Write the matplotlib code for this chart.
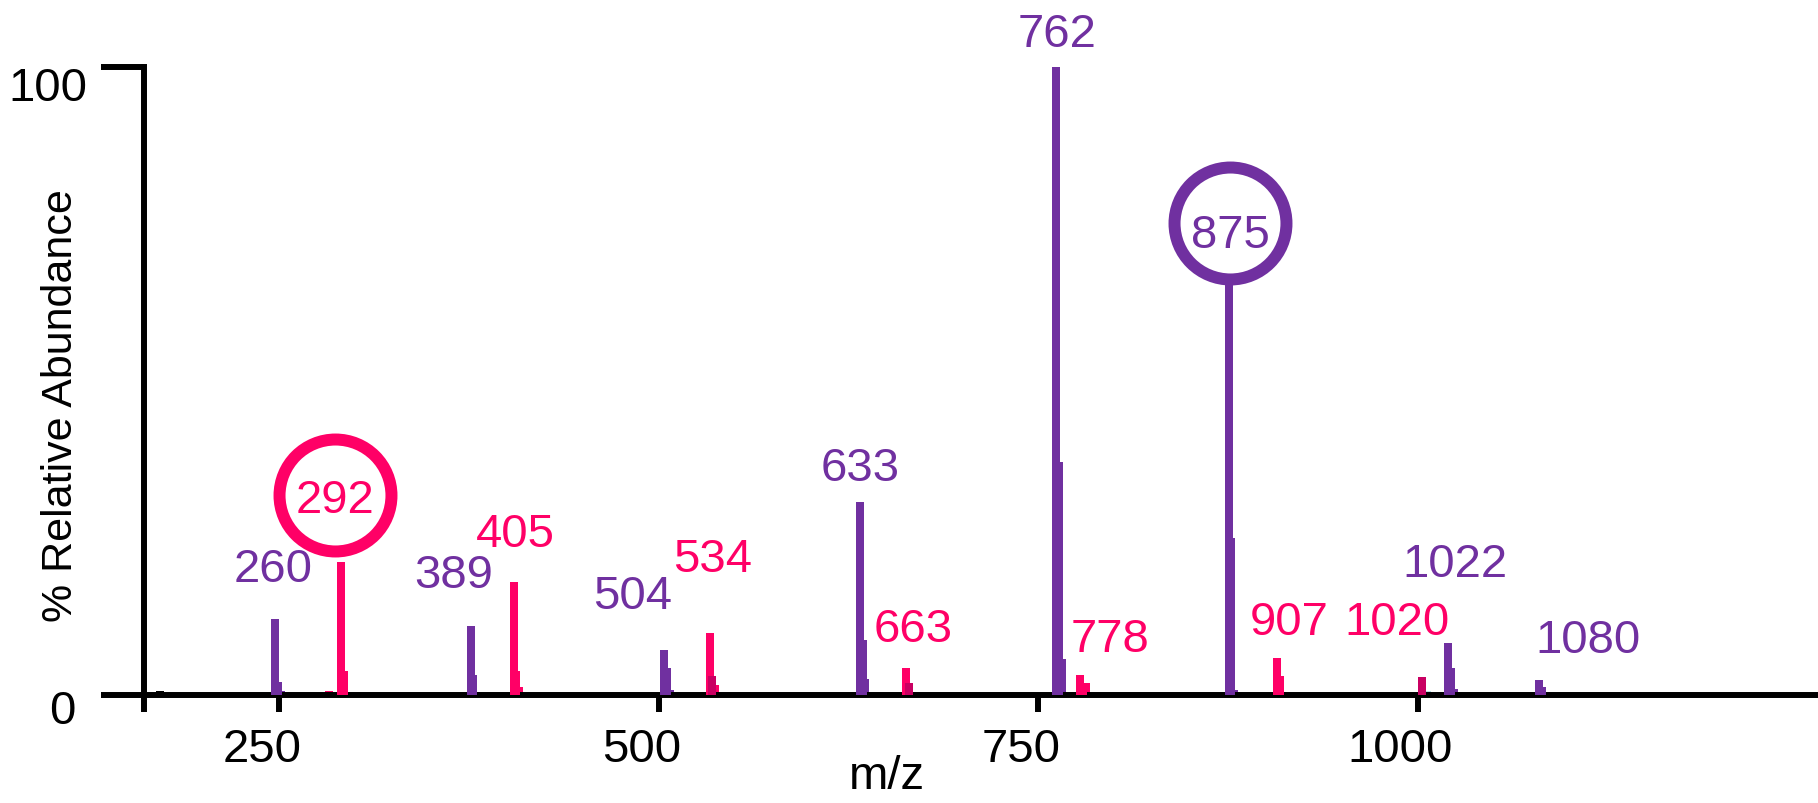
import numpy as np
import matplotlib
matplotlib.use('Agg')
import matplotlib.pyplot as plt
from matplotlib.transforms import ScaledTranslation

plt.rcParams['font.family'] = ['Liberation Sans', 'DejaVu Sans']

PURPLE = '#7030A0'
PINK = '#FF0066'
DARK_PINK = '#C90062'
CYAN = '#B5DFE4'

# purple series: main peak plus the two small isotope steps
purple_mz = [247.4, 376.2, 503.6, 632.7, 761.9, 875.5, 1020.1, 1080.0]
purple_int = [12.1, 11.0, 7.2, 30.7, 100.0, 75.0, 8.3, 2.4]
purple_iso1 = [2.0, 3.2, 4.3, 8.8, 37.1, 25.0, 4.3, 1.3]
purple_iso2 = [0.6, 0.5, 0.8, 2.5, 5.7, 0.8, 1.0, 0.3]
purple_labels = ['260', '389', '504', '633', '762', '875', '1022', '1080']

# pink series
pink_mz = [290.8, 404.5, 533.6, 662.7, 777.7, 907.4]
pink_int = [21.2, 18.0, 9.9, 4.3, 3.2, 5.9]
pink_iso1 = [3.8, 3.8, 1.6, 0.5, 1.9, 3.0]
pink_iso2 = [0.4, 1.2, 1.6, 0.4, 1.9, 0.4]
pink_labels = ['292', '405', '534', '663', '778', '907', '1020']

# overlapping darker pink peaks
dark_mz = [535.3, 664.7, 1003.0]
dark_int = [3.0, 1.9, 2.9]

# baseline noise
noise_mz = [171.6, 243.0, 254.0, 283.0, 749.0, 753.0, 999.0, 1006.0]
noise_int = [0.6, 0.5, 0.5, 0.7, 0.4, 0.4, 0.4, 0.6]
noise_col = ['black', CYAN, CYAN, PINK, CYAN, CYAN, CYAN, CYAN]

# label anchors (m/z, % baseline)
purple_label_pos = [(246.0, 18.2), (365.3, 17.2), (483.2, 13.9), (632.7, 34.2),
                    (762.4, 103.3), (876.5, 71.3), (1024.8, 18.9), (1112.3, 6.8)]
pink_label_pos = [(286.6, 29.1), (405.5, 23.7), (535.9, 19.7), (668.0, 8.6),
                  (797.4, 7.0), (915.5, 9.7), (986.5, 9.7)]
circled = {'292': (286.6, 31.9, PINK), '875': (876.5, 75.2, PURPLE)}

W = 5.3
fig = plt.figure(figsize=(18.18, 8.04), dpi=100)
ax = fig.add_axes([143.5 / 1818, 108 / 804, 1 - 143.5 / 1818, 628 / 804])

ax.bar(noise_mz, noise_int, width=W, color=noise_col, linewidth=0, zorder=1)
for mz, main, i1, i2, col in [(purple_mz, purple_int, purple_iso1, purple_iso2, PURPLE),
                              (pink_mz, pink_int, pink_iso1, pink_iso2, PINK)]:
    mz = np.array(mz)
    ax.bar(mz + 3.6, i2, width=W, color=col, linewidth=0, zorder=2)
    ax.bar(mz + 1.8, i1, width=W, color=col, linewidth=0, zorder=3)
    ax.bar(mz, main, width=W, color=col, linewidth=0, zorder=4)
ax.bar(dark_mz, dark_int, width=W, color=DARK_PINK, linewidth=0, zorder=5)

for lab, (x, y) in zip(purple_labels, purple_label_pos):
    ax.text(x, y, lab, color=PURPLE, fontsize=34, ha='center', va='baseline',
            zorder=8, clip_on=False)
for lab, (x, y) in zip(pink_labels, pink_label_pos):
    ax.text(x, y, lab, color=PINK, fontsize=34, ha='center', va='baseline',
            zorder=8, clip_on=False)

for lab, (x, y, col) in circled.items():
    ax.plot([x], [y], marker='o', ms=80.6, mfc='white', mec=col, mew=8.64,
            zorder=7, clip_on=False)

ax.set_xlim(160.7, 1263.8)
ax.set_ylim(0, 100)
for s in ['top', 'right']:
    ax.spines[s].set_visible(False)
for s in ['left', 'bottom']:
    ax.spines[s].set_linewidth(4.3)

ax.set_xticks([250, 500, 750, 1000])
ax.set_xticks([160.7], minor=True)
ax.set_yticks([0, 100])
ax.tick_params(axis='x', which='both', length=12.2, width=4.3, pad=11, labelsize=34)
ax.tick_params(axis='y', length=31, width=4.3, pad=9.4, labelsize=34)

for lab in ax.get_xticklabels():
    lab.set_transform(lab.get_transform() + ScaledTranslation(-0.17, 0, fig.dpi_scale_trans))
ytick_offsets = [(-0.12, -0.11), (0, -0.16)]
for lab, (dx, dy) in zip(ax.get_yticklabels(), ytick_offsets):
    lab.set_transform(lab.get_transform() + ScaledTranslation(dx, dy, fig.dpi_scale_trans))

ax.set_ylabel('% Relative Abundance', fontsize=31)
ax.yaxis.set_label_coords(-0.0493, 0.462)
ax.yaxis.label.set_va('center')
ax.set_xlabel('m/z', fontsize=34)
ax.xaxis.set_label_coords(0.444, -0.148)
ax.xaxis.label.set_va('baseline')

fig.savefig('out.png', dpi=100)
